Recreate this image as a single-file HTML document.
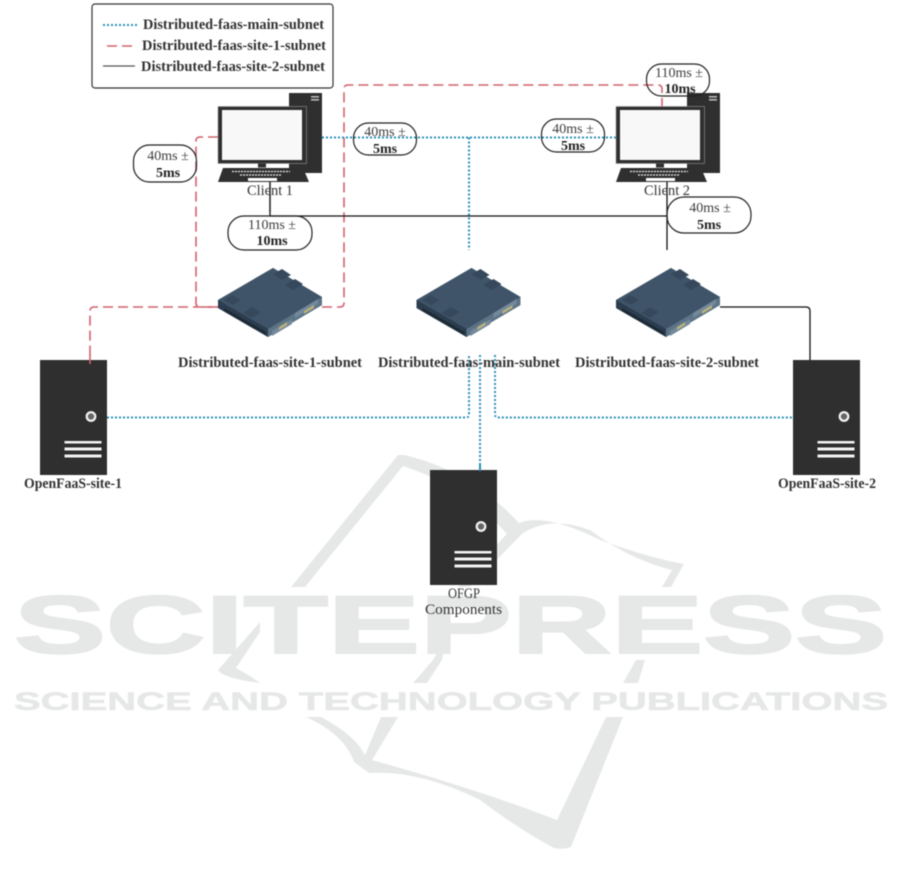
<!DOCTYPE html>
<html>
<head>
<meta charset="utf-8">
<style>
html,body{margin:0;padding:0;background:#fff;overflow:hidden;}
svg{display:block;position:absolute;left:0;top:0;filter:blur(0.45px);}
text{font-family:"Liberation Serif",serif;font-size:14.5px;fill:#333;font-weight:bold;}
.n{font-weight:normal;fill:#333;font-size:15px;}
.p{font-weight:normal;fill:#3c3c3c;font-size:14px;}
.d{fill:#222;font-size:14px;}
.wm1{font-family:"Liberation Sans",sans-serif;font-weight:bold;fill:#e6e8e7;stroke:#e6e8e7;stroke-width:2px;font-size:82px;}
.wm2{font-family:"Liberation Sans",sans-serif;font-weight:bold;fill:#e6e8e7;stroke:#e6e8e7;stroke-width:0.6px;font-size:25px;}
</style>
</head>
<body>
<svg width="901" height="884" viewBox="0 0 901 884" xmlns="http://www.w3.org/2000/svg">
<defs>
<g id="server">
  <rect x="0" y="0" width="67" height="115" fill="#2f2f2f"/>
  <circle cx="51" cy="56.500" r="4.300" fill="#666" stroke="#f4f4f4" stroke-width="2.200"/>
  <rect x="24.500" y="81" width="37" height="2.500" fill="#f4f4f4"/>
  <rect x="24.500" y="87.500" width="37" height="3" fill="#f4f4f4"/>
  <rect x="24.500" y="94.500" width="37" height="3" fill="#f4f4f4"/>
</g>
<g id="router">
  <polygon points="218,300 273,268 322,297 322,305 268,337 218,308" fill="#3c5266"/>
  <polygon points="218,300 273,268 322,297 268,329" fill="#3f5468"/>
  <polygon points="218,300 268,329 268,337 218,308" fill="#2b3d4e"/>
  <polygon points="268,329 322,297 322,305 268,337" fill="#5d7487"/>
  <polygon points="224,308 266,332 266,335 224,311" fill="#1d2a36"/>
  <polygon points="272,331 292,319 292,324 272,336" fill="#73899b"/>
  <polygon points="295,318 318,304 318,299 295,313" fill="#73899b"/>
  <polygon points="279,330 287,325 287,322 279,327" fill="#b9b27c"/>
  <polygon points="304,314 314,308 314,305 304,311" fill="#b9b27c"/>
  <polygon points="273,274 282,269 291,275 282,280" fill="#36495c"/>
  <polygon points="285,285 295,279 303,284 293,290" fill="#36495c"/>
  <polygon points="224,300 232,295 241,300 233,305" fill="#36495c"/>
  <polygon points="243,313 252,307 261,312 252,318" fill="#36495c"/>
</g>
<g id="client">
  <rect x="289" y="93" width="33" height="80" fill="#2f2f2f"/>
  <rect x="311" y="96" width="8" height="1.600" fill="#bbb"/>
  <rect x="311" y="99" width="8" height="1.600" fill="#bbb"/>
  <rect x="218" y="106.500" width="88.500" height="57" fill="#2f2f2f" stroke="#999" stroke-width="0.600"/>
  <rect x="222" y="110" width="80" height="50" fill="#f8f8f8"/>
  <rect x="258" y="163.500" width="8" height="4" fill="#2f2f2f"/>
  <polygon points="223,168 303,168 309,182 218,182" fill="#2f2f2f"/>
  <line x1="232" y1="171.500" x2="290" y2="171.500" stroke="#eee" stroke-width="1.300" stroke-dasharray="2 1"/>
  <line x1="240" y1="175" x2="282" y2="175" stroke="#eee" stroke-width="1.300" stroke-dasharray="2 1"/>
  <rect x="248" y="178" width="29" height="3" fill="#fff"/>
</g>
</defs>

<!-- watermark -->
<g fill="#e6e8e7">
  <path d="M291,587 L398,455 L404,455 Q470,470 519,523 L510,538 Q470,488 403,466 L305,587 Z"/>
  <path d="M515,525 Q540,510 600,540 Q650,558 684,564 L671,587 L662,587 L672,570 Q630,560 590,530 Q550,515 522,534 L470,587 L458,587 Z"/>
  <path d="M260,622 L218,670 Q222,678 260,683 L250,676 L236,668 L260,632 Z"/>
  <polygon points="444,640 433,660 413,683 427,683 442,660 446,640"/>
  <polygon points="645,660 636,660 623,683 638,683"/>
  <path d="M306,717 L321,717 Q355,735 365,755 L381,717 L398,717 L372,760 Q480,790 557,820 L606,717 L623,717 L571,847 Q562,850 554,848 Q520,830 480,800 Q420,770 369,773 L354,762 Q345,735 306,717 Z"/>
</g>
<text class="wm1" x="14" y="653" textLength="873" lengthAdjust="spacingAndGlyphs">SCITEPRESS</text>
<text class="wm2" x="14" y="710" textLength="874" lengthAdjust="spacingAndGlyphs">SCIENCE AND TECHNOLOGY PUBLICATIONS</text>

<!-- connectors -->
<g fill="none" stroke-linejoin="round">
  <g stroke="#d2606f" stroke-width="1.600" stroke-dasharray="10 5">
    <path d="M218,137 H200 Q196,137 196,141 V303 Q196,307 200,307 H218"/>
    <path d="M218,307 H94 Q90,307 90,311 V360"/>
    <path d="M322,307 H340 Q344,307 344,303 V89 Q344,85 348,85 H658 Q662,85 662,89 V106"/>
  </g>
  <g stroke="#111" stroke-width="1.300">
    <path d="M270,182 V216 H667"/>
    <path d="M667,182 V250"/>
    <path d="M720,307 H806 Q810,307 810,311 V360"/>
  </g>
  <g stroke="#2a8fb8" stroke-width="2" stroke-dasharray="2 2">
    <path d="M322,137.500 H616"/>
    <path d="M469,137.500 V250"/>
    <path d="M107,417.500 H466 Q469,417.500 469,414 V355"/>
    <path d="M480,355 V472"/>
    <path d="M495,355 V414 Q495,417.500 498,417.500 H793"/>
  </g>
</g>

<!-- devices -->
<use href="#client"/>
<use href="#client" x="398"/>
<use href="#router"/>
<use href="#router" x="198.500"/>
<use href="#router" x="398"/>
<use href="#server" x="40" y="360"/>
<use href="#server" x="793" y="360"/>
<use href="#server" x="430" y="470"/>

<!-- redraw connectors that pass over devices -->
<line x1="270" y1="182" x2="270" y2="212" stroke="#222" stroke-width="1.300"/>
<line x1="480" y1="465" x2="480" y2="472" stroke="#2a8fb8" stroke-width="2" stroke-dasharray="2 2"/>
<line x1="90" y1="355" x2="90" y2="364" stroke="#d2606f" stroke-width="1.600"/>

<!-- legend -->
<rect x="92" y="4" width="241" height="84" rx="3" fill="none" stroke="#333" stroke-width="1.200"/>
<line x1="103" y1="25" x2="137" y2="25" stroke="#2a8fb8" stroke-width="2" stroke-dasharray="2 2"/>
<line x1="107" y1="46" x2="137" y2="46" stroke="#d2606f" stroke-width="1.500" stroke-dasharray="10 5"/>
<line x1="103" y1="66" x2="135" y2="66" stroke="#555" stroke-width="1.300"/>
<text x="143" y="29" textLength="181" lengthAdjust="spacingAndGlyphs">Distributed-faas-main-subnet</text>
<text x="142" y="50" textLength="184" lengthAdjust="spacingAndGlyphs">Distributed-faas-site-1-subnet</text>
<text x="141" y="71" textLength="184" lengthAdjust="spacingAndGlyphs">Distributed-faas-site-2-subnet</text>

<!-- latency pills -->
<g fill="none" stroke="#222" stroke-width="1.200">
  <rect x="133.500" y="145" width="63" height="37" rx="16"/>
  <rect x="353.500" y="123" width="63" height="32" rx="15"/>
  <rect x="228" y="216" width="84" height="34" rx="16"/>
  <rect x="541.500" y="119" width="63" height="33" rx="15"/>
  <rect x="646.500" y="64" width="63" height="32" rx="15"/>
  <rect x="667" y="197" width="84" height="36" rx="17"/>
</g>
<g text-anchor="middle">
  <text class="p" x="168" y="160">40ms ±</text><text class="d" x="168" y="177">5ms</text>
  <text class="p" x="385" y="136">40ms ±</text><text class="d" x="385" y="153">5ms</text>
  <text class="p" x="272" y="229">110ms ±</text><text class="d" x="272" y="245">10ms</text>
  <text class="p" x="573" y="133">40ms ±</text><text class="d" x="573" y="150">5ms</text>
  <text class="p" x="679" y="77">110ms ±</text><text class="d" x="680" y="93">10ms</text>
  <text class="p" x="710" y="212">40ms ±</text><text class="d" x="709" y="229">5ms</text>
</g>

<!-- labels -->
<text x="247" y="195" class="n" textLength="46" lengthAdjust="spacingAndGlyphs">Client 1</text>
<text x="644" y="195" class="n" textLength="46" lengthAdjust="spacingAndGlyphs">Client 2</text>
<text x="178" y="367" textLength="184" lengthAdjust="spacingAndGlyphs">Distributed-faas-site-1-subnet</text>
<text x="378" y="367" textLength="182" lengthAdjust="spacingAndGlyphs">Distributed-faas-main-subnet</text>
<text x="575" y="367" textLength="184" lengthAdjust="spacingAndGlyphs">Distributed-faas-site-2-subnet</text>
<text x="24" y="488" textLength="98" lengthAdjust="spacingAndGlyphs">OpenFaaS-site-1</text>
<text x="778" y="488" textLength="98" lengthAdjust="spacingAndGlyphs">OpenFaaS-site-2</text>
<text x="448" y="598" class="n" textLength="32" lengthAdjust="spacingAndGlyphs">OFGP</text>
<text x="425" y="614" class="n" textLength="77" lengthAdjust="spacingAndGlyphs">Components</text>
</svg>
</body>
</html>
